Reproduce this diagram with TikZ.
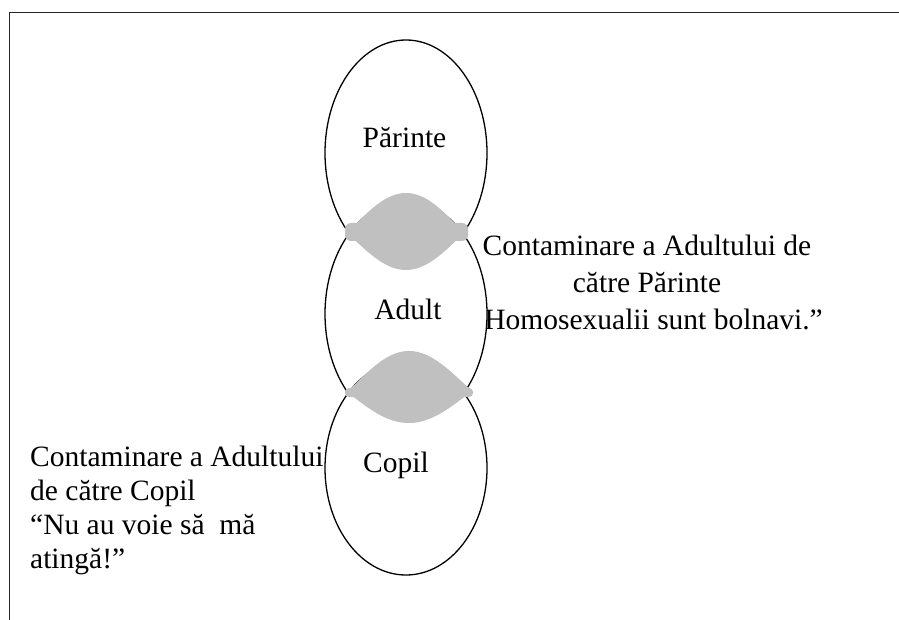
\documentclass[tikz,border=0pt]{standalone}
\usepackage{fontspec}
\setmainfont{Liberation Serif}
\usetikzlibrary{shapes.geometric}
\definecolor{lensgray}{RGB}{192,192,192}
\begin{document}
\begin{tikzpicture}[x=1pt,y=-1pt,
  egostate/.style={draw=black, line width=1.3pt, fill=white, ellipse,
    minimum width=162pt, inner sep=0pt},
  lbl/.style={font=\fontsize{29.5}{34}\selectfont, inner sep=0pt},
  lens/.style={fill=lensgray, draw=none},
  framing/.style={line width=1.6pt, draw=black!85}]
\useasboundingbox (0,0) rectangle (899,620);

% open frame: top edge and left edge
\coordinate (ftop) at (899,12.5);
\coordinate (fcorner) at (9.5,12.5);
\coordinate (fbot) at (9.5,620);
\draw[framing] (ftop) -- (fcorner) -- (fbot);

% explanatory texts (base anchor sits on the last line)
\node[lbl, anchor=base west, align=left] (copnote) at (30,568)
  {Contaminare a Adultului\\de către Copil\\“Nu au voie să\ \ mă\\atingă!”};
\node[lbl, font=\fontsize{29.5}{37}\selectfont, anchor=base, align=center] (parnote) at (647,329)
  {Contaminare a Adultului de\\către Părinte\\“Homosexualii sunt bolnavi.”};

% the three ego states
\node[egostate, minimum height=226pt] (par) at (406,153) {};
\node[egostate, minimum height=226pt] (adu) at (406,314) {};
\node[egostate, minimum height=214pt] (cop) at (406,468) {};

\node[lbl, anchor=base] (partxt) at (404.5,148) {Părinte};
\node[lbl, anchor=base] (adutxt) at (408,319) {Adult};
\node[lbl, anchor=base] (coptxt) at (396,472) {Copil};

% contamination zones where the states overlap
\fill[lens, rounded corners=6pt] (345,223) rectangle (468,241);
\fill[lens] (347,233) .. controls (366,214) and (384,193) .. (406,193)
  .. controls (428,193) and (446,214) .. (464,233)
  .. controls (446,250) and (428,270) .. (406,270)
  .. controls (384,270) and (366,250) .. (347,233) -- cycle;

\fill[lens, rounded corners=4pt] (345,388) rectangle (473,397);
\fill[lens] (347,392) .. controls (368,372) and (386,351) .. (409,351)
  .. controls (432,351) and (451,372) .. (472,391)
  .. controls (451,407) and (432,423) .. (409,423)
  .. controls (386,423) and (368,408) .. (347,392) -- cycle;
\end{tikzpicture}
\end{document}
